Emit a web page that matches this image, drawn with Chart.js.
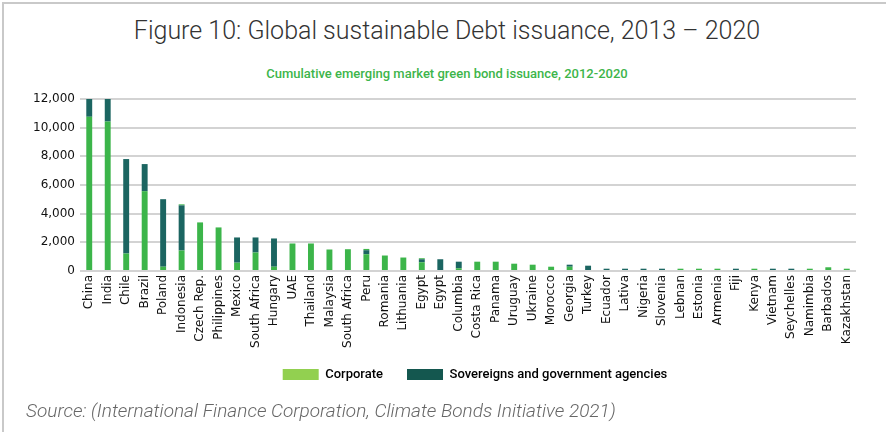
<!DOCTYPE html>
<html>
<head>
<meta charset="utf-8">
<script src="https://cdn.jsdelivr.net/npm/chart.js@4"></script>
<style>
  body { margin: 0; background: #fff; width: 886px; height: 432px; overflow: hidden; position: relative; }
  .frame { position: absolute; left: 2px; top: 2px; width: 900px; height: 440px; border-top: 2px solid #c9c9c9; border-left: 2px solid #c9c9c9; }
  .title { position: absolute; left: 0; width: 894px; top: 16px; text-align: center; font-family: Roboto, sans-serif; font-weight: 300; font-size: 25px; color: #333; }
  .subtitle { position: absolute; left: 0; width: 894px; top: 66px; text-align: center; font-family: Roboto, sans-serif; font-weight: 500; font-size: 13px; color: #3db54a; }
  .source { position: absolute; left: 26px; top: 399px; font-family: Roboto, sans-serif; font-weight: 300; font-style: italic; font-size: 19px; color: #666; }
  #wrap { position: absolute; left: 0; top: 0; width: 886px; height: 400px; }
</style>
</head>
<body>
<div class="frame"></div>
<div class="title">Figure 10: Global sustainable Debt issuance, 2013 – 2020</div>
<div class="subtitle">Cumulative emerging market green bond issuance, 2012-2020</div>
<div id="wrap"><canvas id="myChart"></canvas></div>
<div class="source">Source: (International Finance Corporation, Climate Bonds Initiative 2021)</div>
<script>
// countries as labelled in the figure
let countries = ['China', 'India', 'Chile', 'Brazil', 'Poland', 'Indonesia', 'Czech Rep.', 'Philippines',
    'Mexico', 'South Africa', 'Hungary', 'UAE', 'Thailand', 'Malaysia', 'South Africa', 'Peru', 'Romania',
    'Lithuania', 'Egypt', 'Egypt', 'Columbia', 'Costa Rica', 'Panama', 'Uruguay', 'Ukraine', 'Morocco',
    'Georgia', 'Turkey', 'Ecuador', 'Lativa', 'Nigeria', 'Slovenia', 'Lebnan', 'Estonia', 'Armenia', 'Fiji',
    'Kenya', 'Vietnam', 'Seychelles', 'Namimbia', 'Barbados', 'Kazakhstan']

// USD m
let corporate = [10760, 10430, 1220, 5570, 300, 1430, 3390, 3040, 580, 1290, 300, 1920, 1920, 1500, 1520,
    1170, 1080, 940, 610, 0, 190, 650, 650, 510, 440, 300, 300, 0, 0, 0, 0, 0, 160, 160, 160, 0, 160, 0, 0,
    160, 260, 160]
let sovereign = [1240, 1570, 6590, 1890, 4710, 3150, 0, 0, 1760, 1050, 1970, 0, 0, 0, 0, 280, 0, 0, 210,
    820, 460, 0, 0, 0, 0, 0, 140, 370, 160, 160, 160, 160, 0, 0, 0, 160, 0, 160, 160, 0, 0, 0]
// thin corporate slice sitting on top of a few bars
let corporateTop = [0, 0, 0, 0, 0, 70, 0, 0, 0, 0, 0, 0, 0, 0, 0, 90, 0, 0, 70, 0, 0, 0, 0, 0, 0, 0, 0, 0,
    0, 0, 0, 0, 0, 0, 0, 0, 0, 0, 0, 0, 0, 0]

let yTicks = [0, 2000, 4000, 6000, 8000, 10000, 12000]

const green = '#3cb54a'
const teal = '#1b6561'

const ctx = document.getElementById('myChart')

// the legend sits right of the plot centre and a little higher in the original
const legendShift = {
    id: 'legendShift',
    afterLayout(chart) {
        chart.legend.left += 47
        chart.legend.right += 47
        chart.legend.top -= 7
        chart.legend.bottom -= 7
    }
}

const data = {
    labels: countries,
    datasets: [
        { label: 'Corporate', data: corporate, backgroundColor: green },
        { label: 'Sovereigns and government agencies', data: sovereign, backgroundColor: teal },
        { label: 'Corporate', data: corporateTop, backgroundColor: green }
    ]
}

const config = {
    type: 'bar',
    data: data,
    plugins: [legendShift],
    options: {
        responsive: true,
        maintainAspectRatio: false,
        animation: false,
        datasets: { bar: { categoryPercentage: 0.8, barPercentage: 0.4 } },
        layout: { padding: { top: 99, right: 30, left: 0, bottom: 2 } },
        plugins: {
            tooltip: { enabled: false },
            legend: {
                position: 'bottom',
                labels: {
                    boxWidth: 36,
                    boxHeight: 11,
                    padding: 24,
                    color: '#111',
                    font: { family: 'Roboto, sans-serif', size: 13, weight: '500' },
                    generateLabels: function () {
                        return [
                            { text: 'Corporate', fillStyle: '#92d050', strokeStyle: '#92d050', lineWidth: 0, datasetIndex: 0 },
                            { text: 'Sovereigns and government agencies', fillStyle: '#14574f', strokeStyle: '#14574f', lineWidth: 0, datasetIndex: 1 }
                        ]
                    }
                }
            }
        },
        scales: {
            x: {
                stacked: true,
                grid: { display: false, drawTicks: false },
                border: { display: false },
                afterFit: function (scale) { scale.height = 80 },
                ticks: {
                    autoSkip: false,
                    minRotation: 90,
                    maxRotation: 90,
                    padding: 4,
                    color: '#111',
                    font: { family: '"DejaVu Sans", sans-serif', size: 12 }
                }
            },
            y: {
                stacked: true,
                min: 0,
                max: 12000,
                afterFit: function (scale) { scale.width = 80 },
                afterBuildTicks: function (scale) { scale.ticks = yTicks.map(v => ({ value: v })) },
                grid: { color: '#d3d3d3', lineWidth: 2, drawTicks: false },
                border: { display: false },
                ticks: {
                    padding: 5,
                    color: '#111',
                    font: { family: '"DejaVu Sans", sans-serif', size: 12 },
                    callback: v => v.toLocaleString('en-US')
                }
            }
        }
    }
}

const myChart = new Chart(ctx, config)
</script>
</body>
</html>
